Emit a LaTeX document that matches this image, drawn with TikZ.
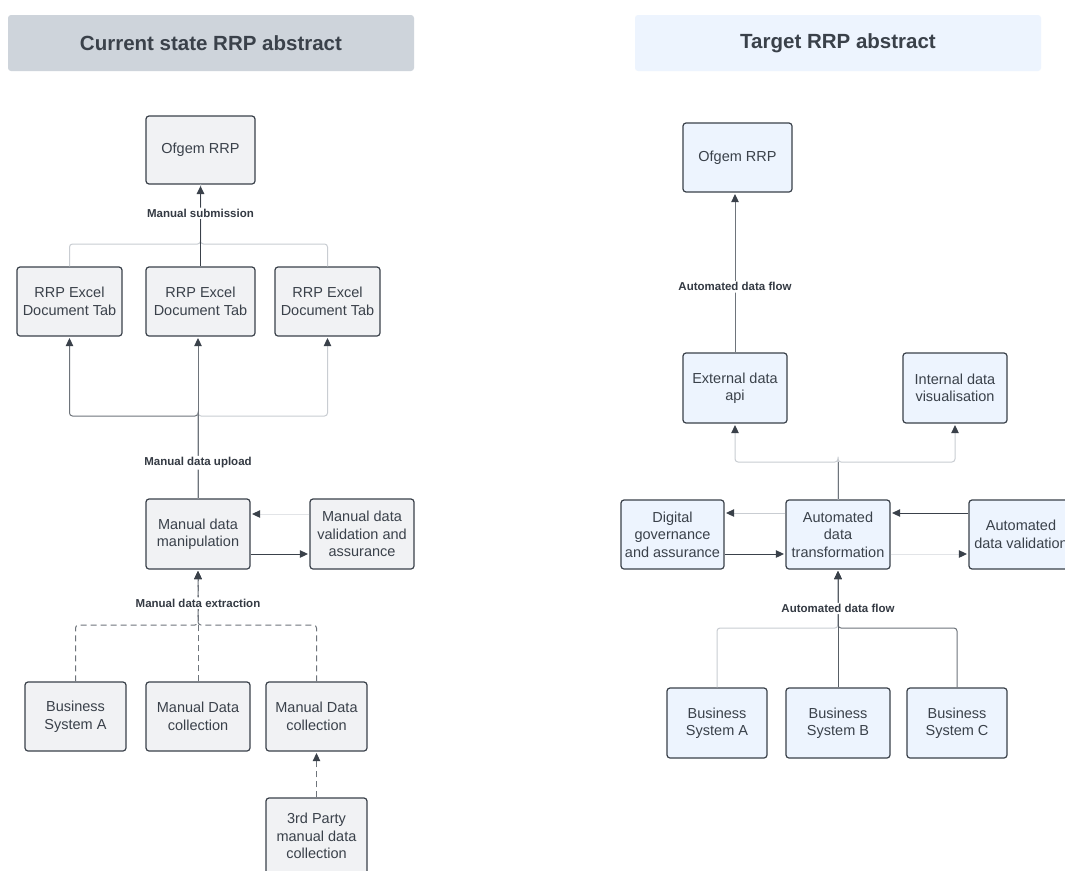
\documentclass[tikz,border=0pt]{standalone}
\usepackage{fontspec}
\setmainfont{Liberation Sans}
\usetikzlibrary{arrows.meta}
\definecolor{dk}{HTML}{3A414A}
\definecolor{lt}{HTML}{C9CDD2}
\definecolor{vlt}{HTML}{E2E4E7}
\definecolor{md}{HTML}{6E747B}
\definecolor{hdgray}{HTML}{CED4DB}
\definecolor{hdblue}{HTML}{EDF4FE}
\definecolor{fgray}{HTML}{F1F2F4}
\definecolor{fblue}{HTML}{EDF4FE}
\begin{document}
\begin{tikzpicture}[x=1pt,y=-1pt,
  box/.style={draw=dk, line width=1.2pt, rounded corners=3pt, align=center,
    text=dk, font=\fontsize{14.5}{17.5}\selectfont, inner sep=0pt},
  gbox/.style={box, fill=fgray},
  bbox/.style={box, fill=fblue},
  hdr/.style={rounded corners=3pt, inner sep=0pt, text=dk,
    font=\fontsize{20.5}{22}\selectfont\bfseries, minimum width=406pt, minimum height=56pt},
  lbl/.style={fill=white, inner sep=1.5pt, text=dk!90!black,
    font=\fontsize{11.5}{13}\selectfont\bfseries},
  arr/.style={-{Triangle[width=7.5pt,length=8pt,color=dk]}, shorten >=1.5pt},
  ln/.style={line width=1pt, rounded corners=3pt},
  dsh/.style={ln, dash pattern=on 6pt off 4pt, draw=md}
]
\useasboundingbox (0,0) rectangle (1065,870);
\fill[white] (0,0) rectangle (1065,870);

% headers
\node[hdr, fill=hdgray] (h1) at (211,43) {Current state RRP abstract};
\node[hdr, fill=hdblue] (h2) at (838,43) {Target RRP abstract};

% ---------- left diagram ----------
\node[gbox, minimum width=109pt, minimum height=68pt] (ofgL) at (200.5,150) {Ofgem RRP};
\node[gbox, minimum width=105pt, minimum height=69pt] (xlL) at (69.5,301.5) {RRP Excel\\Document Tab};
\node[gbox, minimum width=109pt, minimum height=69pt] (xmL) at (200.5,301.5) {RRP Excel\\Document Tab};
\node[gbox, minimum width=105pt, minimum height=69pt] (xrL) at (327.5,301.5) {RRP Excel\\Document Tab};
\node[gbox, minimum width=104pt, minimum height=70pt] (manip) at (198,534) {Manual data\\manipulation};
\node[gbox, minimum width=104pt, minimum height=70pt] (valid) at (362,534) {Manual data\\validation and\\assurance};
\node[gbox, minimum width=101pt, minimum height=69pt] (bsA) at (75.5,716.5) {Business\\System A};
\node[gbox, minimum width=104pt, minimum height=69pt] (mdc1) at (198,716.5) {Manual Data\\collection};
\node[gbox, minimum width=101pt, minimum height=69pt] (mdc2) at (316.5,716.5) {Manual Data\\collection};
\node[gbox, minimum width=101pt, minimum height=76pt] (third) at (316.5,836) {3rd Party\\manual data\\collection};

\coordinate (busTop) at (200.5,244);
\coordinate (busMid) at (198,416);
\coordinate (busBot) at (198,625);

% excel tabs -> Ofgem
\draw[ln, draw=lt] (xlL.north) |- (busTop) -- (ofgL.south);
\draw[ln, draw=lt] (xrL.north) |- (busTop) -- (ofgL.south);
\draw[ln, draw=dk, line width=1.5pt, arr] (xmL.north) -- node[lbl, pos=0.65] {Manual submission} (ofgL.south);

% manipulation -> excel tabs
\draw[ln, draw=md, arr] (manip.north) |- (busMid) -| (xlL.south);
\draw[ln, draw=lt, arr] (manip.north) |- (busMid) -| (xrL.south);
\draw[ln, draw=md, arr] (manip.north) -- node[lbl, pos=0.22] {Manual data upload} (manip.north |- xmL.south);

% manipulation <-> validation
\draw[ln, draw=vlt, arr] ([yshift=20pt]valid.west) -- ([yshift=20pt]manip.east);
\draw[ln, draw=dk, arr] ([yshift=-20pt]manip.east) -- ([yshift=-20pt]valid.west);

% extraction (dashed)
\draw[dsh, arr] (bsA.north) |- (busBot) -- (manip.south);
\draw[dsh, arr] (mdc2.north) |- (busBot) -- (manip.south);
\draw[dsh, arr] (mdc1.north) -- node[lbl, pos=0.70] {Manual data extraction} (manip.south);
\draw[dsh, arr] (third.north) -- (mdc2.south);

% ---------- right diagram ----------
\node[bbox, minimum width=109pt, minimum height=69pt] (ofgR) at (737.5,157.5) {Ofgem RRP};
\node[bbox, minimum width=104pt, minimum height=70pt] (ext) at (735,388) {External data\\api};
\node[bbox, minimum width=104pt, minimum height=70pt] (intv) at (955,388) {Internal data\\visualisation};
\node[bbox, minimum width=103pt, minimum height=69pt] (gov) at (672.5,534.5) {Digital\\governance\\and assurance};
\node[bbox, minimum width=104pt, minimum height=69pt] (trans) at (838,534.5) {Automated\\data\\transformation};
\node[bbox, minimum width=104pt, minimum height=69pt] (aval) at (1021,534.5) {Automated\\data validation};
\node[bbox, minimum width=100pt, minimum height=70pt] (bA) at (717,723) {Business\\System A};
\node[bbox, minimum width=104pt, minimum height=70pt] (bB) at (838,723) {Business\\System B};
\node[bbox, minimum width=100pt, minimum height=70pt] (bC) at (957,723) {Business\\System C};

\coordinate (rbusTop) at (838,462);
\coordinate (rbusBot) at (838,628);

\draw[ln, draw=md, arr] (ext.north) -- node[lbl, pos=0.41] {Automated data flow} (ext.north |- ofgR.south);

\draw[ln, draw=lt, arr] (trans.north) |- (rbusTop) -| (ext.south);
\draw[ln, draw=lt, arr] (trans.north) |- (rbusTop) -| (intv.south);
\draw[ln, draw=md] (trans.north) -- (rbusTop);

\draw[ln, draw=lt, arr] ([yshift=21.5pt]trans.west) -- ([yshift=21.5pt]gov.east);
\draw[ln, draw=dk, arr] ([yshift=-19.5pt]gov.east) -- ([yshift=-19.5pt]trans.west);
\draw[ln, draw=dk, arr] ([yshift=21.5pt]aval.west) -- ([yshift=21.5pt]trans.east);
\draw[ln, draw=vlt, arr] ([yshift=-19.5pt]trans.east) -- ([yshift=-19.5pt]aval.west);

\draw[ln, draw=lt, arr] (bA.north) |- (rbusBot) -- (trans.south);
\draw[ln, draw=md, arr] (bC.north) |- (rbusBot) -- (trans.south);
\draw[ln, draw=dk!85, arr] (bB.north) -- node[lbl, pos=0.67] {Automated data flow} (trans.south);
\end{tikzpicture}
\end{document}
